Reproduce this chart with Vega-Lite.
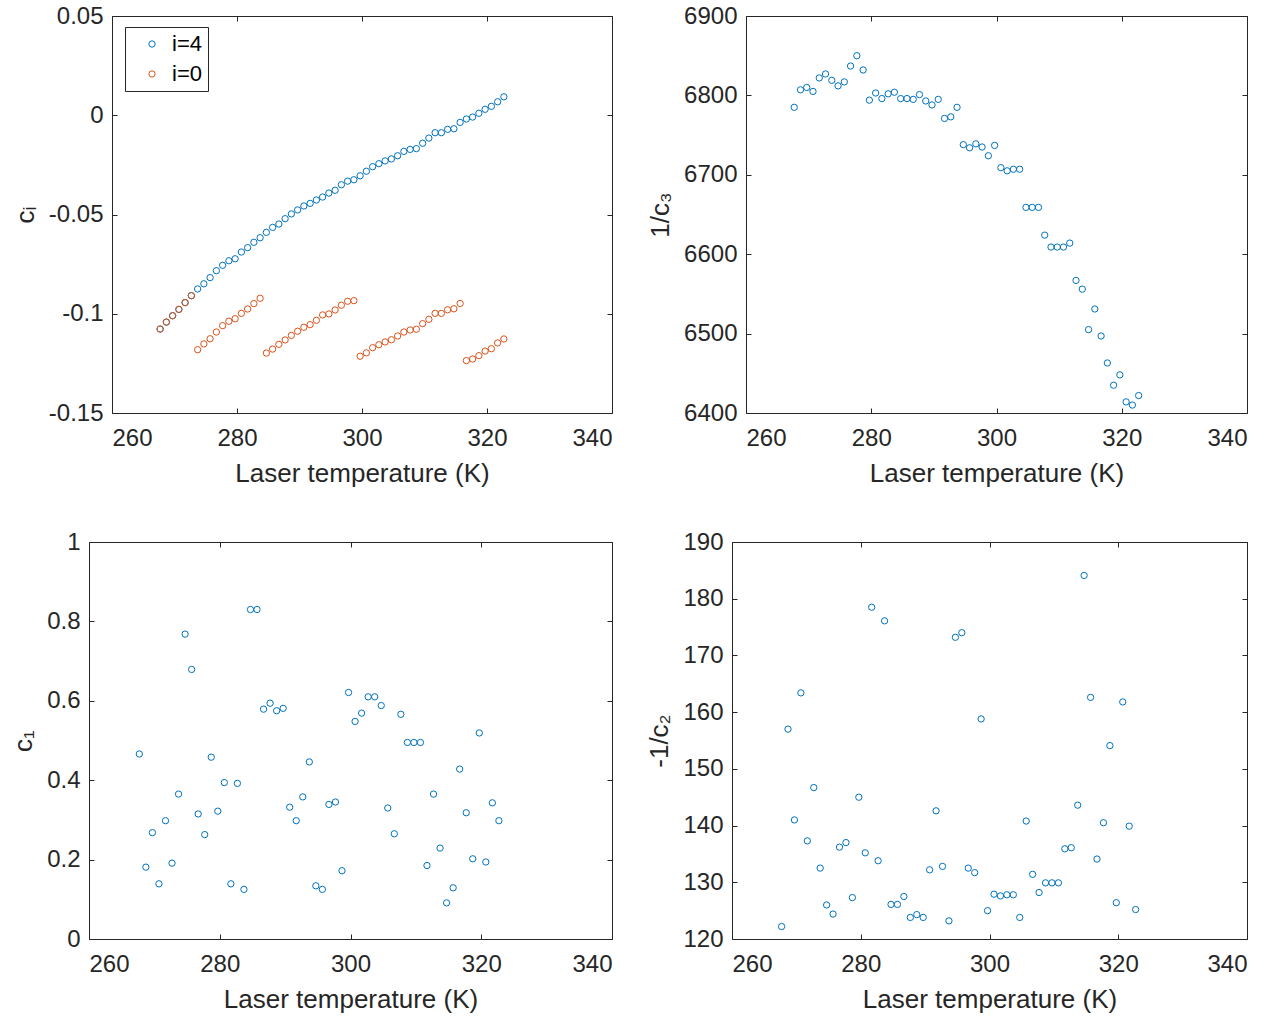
{
  "$schema": "https://vega.github.io/schema/vega-lite/v6.json",
  "background": "white",
  "padding": {"left": 10, "top": 4, "right": 5, "bottom": 5},
  "datasets": {
    "p1": [
      {"T": 267.7, "s": "i=4", "v": -0.1077}, {"T": 268.7, "s": "i=4", "v": -0.1042}, {"T": 269.7, "s": "i=4", "v": -0.1010}, {"T": 270.7, "s": "i=4", "v": -0.0978},
      {"T": 271.7, "s": "i=4", "v": -0.0944}, {"T": 272.7, "s": "i=4", "v": -0.0909}, {"T": 273.7, "s": "i=4", "v": -0.0875}, {"T": 274.7, "s": "i=4", "v": -0.0849},
      {"T": 275.7, "s": "i=4", "v": -0.0818}, {"T": 276.7, "s": "i=4", "v": -0.0783}, {"T": 277.7, "s": "i=4", "v": -0.0756}, {"T": 278.7, "s": "i=4", "v": -0.0733},
      {"T": 279.7, "s": "i=4", "v": -0.0723}, {"T": 280.7, "s": "i=4", "v": -0.0689}, {"T": 281.7, "s": "i=4", "v": -0.0667}, {"T": 282.7, "s": "i=4", "v": -0.0640},
      {"T": 283.7, "s": "i=4", "v": -0.0617}, {"T": 284.7, "s": "i=4", "v": -0.0590}, {"T": 285.7, "s": "i=4", "v": -0.0565}, {"T": 286.7, "s": "i=4", "v": -0.0548},
      {"T": 287.7, "s": "i=4", "v": -0.0521}, {"T": 288.7, "s": "i=4", "v": -0.0497}, {"T": 289.7, "s": "i=4", "v": -0.0477}, {"T": 290.7, "s": "i=4", "v": -0.0457},
      {"T": 291.7, "s": "i=4", "v": -0.0444}, {"T": 292.7, "s": "i=4", "v": -0.0427}, {"T": 293.7, "s": "i=4", "v": -0.0412}, {"T": 294.7, "s": "i=4", "v": -0.0392},
      {"T": 295.7, "s": "i=4", "v": -0.0378}, {"T": 296.7, "s": "i=4", "v": -0.0350}, {"T": 297.7, "s": "i=4", "v": -0.0332}, {"T": 298.7, "s": "i=4", "v": -0.0325},
      {"T": 299.7, "s": "i=4", "v": -0.0305}, {"T": 300.7, "s": "i=4", "v": -0.0282}, {"T": 301.7, "s": "i=4", "v": -0.0259}, {"T": 302.7, "s": "i=4", "v": -0.0244},
      {"T": 303.7, "s": "i=4", "v": -0.0230}, {"T": 304.7, "s": "i=4", "v": -0.0220}, {"T": 305.7, "s": "i=4", "v": -0.0204}, {"T": 306.7, "s": "i=4", "v": -0.0182},
      {"T": 307.7, "s": "i=4", "v": -0.0172}, {"T": 308.7, "s": "i=4", "v": -0.0168}, {"T": 309.7, "s": "i=4", "v": -0.0141}, {"T": 310.7, "s": "i=4", "v": -0.0115},
      {"T": 311.7, "s": "i=4", "v": -0.0088}, {"T": 312.7, "s": "i=4", "v": -0.0088}, {"T": 313.7, "s": "i=4", "v": -0.0071}, {"T": 314.7, "s": "i=4", "v": -0.0068},
      {"T": 315.7, "s": "i=4", "v": -0.0036}, {"T": 316.7, "s": "i=4", "v": -0.0019}, {"T": 317.7, "s": "i=4", "v": -0.0009}, {"T": 318.7, "s": "i=4", "v": 0.0010},
      {"T": 319.7, "s": "i=4", "v": 0.0030}, {"T": 320.7, "s": "i=4", "v": 0.0045}, {"T": 321.7, "s": "i=4", "v": 0.0068}, {"T": 322.7, "s": "i=4", "v": 0.0093},
      {"T": 267.7, "s": "i=0", "v": -0.1077}, {"T": 268.7, "s": "i=0", "v": -0.1042}, {"T": 269.7, "s": "i=0", "v": -0.1010}, {"T": 270.7, "s": "i=0", "v": -0.0978},
      {"T": 271.7, "s": "i=0", "v": -0.0944}, {"T": 272.7, "s": "i=0", "v": -0.0909}, {"T": 273.7, "s": "i=0", "v": -0.1181}, {"T": 274.7, "s": "i=0", "v": -0.1152},
      {"T": 275.7, "s": "i=0", "v": -0.1126}, {"T": 276.7, "s": "i=0", "v": -0.1092}, {"T": 277.7, "s": "i=0", "v": -0.1060}, {"T": 278.7, "s": "i=0", "v": -0.1038},
      {"T": 279.7, "s": "i=0", "v": -0.1025}, {"T": 280.7, "s": "i=0", "v": -0.0998}, {"T": 281.7, "s": "i=0", "v": -0.0976}, {"T": 282.7, "s": "i=0", "v": -0.0949},
      {"T": 283.7, "s": "i=0", "v": -0.0922}, {"T": 284.7, "s": "i=0", "v": -0.1198}, {"T": 285.7, "s": "i=0", "v": -0.1178}, {"T": 286.7, "s": "i=0", "v": -0.1154},
      {"T": 287.7, "s": "i=0", "v": -0.1132}, {"T": 288.7, "s": "i=0", "v": -0.1109}, {"T": 289.7, "s": "i=0", "v": -0.1088}, {"T": 290.7, "s": "i=0", "v": -0.1068},
      {"T": 291.7, "s": "i=0", "v": -0.1055}, {"T": 292.7, "s": "i=0", "v": -0.1033}, {"T": 293.7, "s": "i=0", "v": -0.1006}, {"T": 294.7, "s": "i=0", "v": -0.1001},
      {"T": 295.7, "s": "i=0", "v": -0.0981}, {"T": 296.7, "s": "i=0", "v": -0.0957}, {"T": 297.7, "s": "i=0", "v": -0.0937}, {"T": 298.7, "s": "i=0", "v": -0.0934},
      {"T": 299.7, "s": "i=0", "v": -0.1214}, {"T": 300.7, "s": "i=0", "v": -0.1197}, {"T": 301.7, "s": "i=0", "v": -0.1171}, {"T": 302.7, "s": "i=0", "v": -0.1156},
      {"T": 303.7, "s": "i=0", "v": -0.1142}, {"T": 304.7, "s": "i=0", "v": -0.1131}, {"T": 305.7, "s": "i=0", "v": -0.1112}, {"T": 306.7, "s": "i=0", "v": -0.1092},
      {"T": 307.7, "s": "i=0", "v": -0.1082}, {"T": 308.7, "s": "i=0", "v": -0.1078}, {"T": 309.7, "s": "i=0", "v": -0.1050}, {"T": 310.7, "s": "i=0", "v": -0.1028},
      {"T": 311.7, "s": "i=0", "v": -0.0998}, {"T": 312.7, "s": "i=0", "v": -0.0998}, {"T": 313.7, "s": "i=0", "v": -0.0980}, {"T": 314.7, "s": "i=0", "v": -0.0975},
      {"T": 315.7, "s": "i=0", "v": -0.0948}, {"T": 316.7, "s": "i=0", "v": -0.1236}, {"T": 317.7, "s": "i=0", "v": -0.1228}, {"T": 318.7, "s": "i=0", "v": -0.1211},
      {"T": 319.7, "s": "i=0", "v": -0.1188}, {"T": 320.7, "s": "i=0", "v": -0.1176}, {"T": 321.7, "s": "i=0", "v": -0.1147}, {"T": 322.7, "s": "i=0", "v": -0.1127}
    ],
    "p2": [
      {"T": 267.7, "v": 6785}, {"T": 268.7, "v": 6807}, {"T": 269.7, "v": 6810}, {"T": 270.7, "v": 6805}, {"T": 271.7, "v": 6822}, {"T": 272.7, "v": 6827},
      {"T": 273.7, "v": 6819}, {"T": 274.7, "v": 6812}, {"T": 275.7, "v": 6817}, {"T": 276.7, "v": 6837}, {"T": 277.7, "v": 6850}, {"T": 278.7, "v": 6832},
      {"T": 279.7, "v": 6794}, {"T": 280.7, "v": 6803}, {"T": 281.7, "v": 6796}, {"T": 282.7, "v": 6802}, {"T": 283.7, "v": 6804}, {"T": 284.7, "v": 6796},
      {"T": 285.7, "v": 6796}, {"T": 286.7, "v": 6795}, {"T": 287.7, "v": 6801}, {"T": 288.7, "v": 6793}, {"T": 289.7, "v": 6788}, {"T": 290.7, "v": 6795},
      {"T": 291.7, "v": 6771}, {"T": 292.7, "v": 6773}, {"T": 293.7, "v": 6785}, {"T": 294.7, "v": 6738}, {"T": 295.7, "v": 6734}, {"T": 296.7, "v": 6739},
      {"T": 297.7, "v": 6735}, {"T": 298.7, "v": 6724}, {"T": 299.7, "v": 6737}, {"T": 300.7, "v": 6709}, {"T": 301.7, "v": 6705}, {"T": 302.7, "v": 6707},
      {"T": 303.7, "v": 6707}, {"T": 304.7, "v": 6659}, {"T": 305.7, "v": 6659}, {"T": 306.7, "v": 6659}, {"T": 307.7, "v": 6624}, {"T": 308.7, "v": 6609},
      {"T": 309.7, "v": 6609}, {"T": 310.7, "v": 6609}, {"T": 311.7, "v": 6614}, {"T": 312.7, "v": 6567}, {"T": 313.7, "v": 6556}, {"T": 314.7, "v": 6505},
      {"T": 315.7, "v": 6531}, {"T": 316.7, "v": 6497}, {"T": 317.7, "v": 6463}, {"T": 318.7, "v": 6435}, {"T": 319.7, "v": 6448}, {"T": 320.7, "v": 6414},
      {"T": 321.7, "v": 6410}, {"T": 322.7, "v": 6422}
    ],
    "p3": [
      {"T": 267.7, "v": 0.466}, {"T": 268.7, "v": 0.181}, {"T": 269.7, "v": 0.268}, {"T": 270.7, "v": 0.139}, {"T": 271.7, "v": 0.298}, {"T": 272.7, "v": 0.191},
      {"T": 273.7, "v": 0.365}, {"T": 274.7, "v": 0.768}, {"T": 275.7, "v": 0.679}, {"T": 276.7, "v": 0.315}, {"T": 277.7, "v": 0.263}, {"T": 278.7, "v": 0.458},
      {"T": 279.7, "v": 0.322}, {"T": 280.7, "v": 0.394}, {"T": 281.7, "v": 0.139}, {"T": 282.7, "v": 0.392}, {"T": 283.7, "v": 0.125}, {"T": 284.7, "v": 0.830},
      {"T": 285.7, "v": 0.830}, {"T": 286.7, "v": 0.579}, {"T": 287.7, "v": 0.594}, {"T": 288.7, "v": 0.575}, {"T": 289.7, "v": 0.581}, {"T": 290.7, "v": 0.332},
      {"T": 291.7, "v": 0.298}, {"T": 292.7, "v": 0.358}, {"T": 293.7, "v": 0.446}, {"T": 294.7, "v": 0.134}, {"T": 295.7, "v": 0.125}, {"T": 296.7, "v": 0.339},
      {"T": 297.7, "v": 0.345}, {"T": 298.7, "v": 0.172}, {"T": 299.7, "v": 0.621}, {"T": 300.7, "v": 0.548}, {"T": 301.7, "v": 0.569}, {"T": 302.7, "v": 0.610},
      {"T": 303.7, "v": 0.610}, {"T": 304.7, "v": 0.588}, {"T": 305.7, "v": 0.330}, {"T": 306.7, "v": 0.265}, {"T": 307.7, "v": 0.566}, {"T": 308.7, "v": 0.495},
      {"T": 309.7, "v": 0.495}, {"T": 310.7, "v": 0.495}, {"T": 311.7, "v": 0.185}, {"T": 312.7, "v": 0.365}, {"T": 313.7, "v": 0.229}, {"T": 314.7, "v": 0.091},
      {"T": 315.7, "v": 0.129}, {"T": 316.7, "v": 0.428}, {"T": 317.7, "v": 0.318}, {"T": 318.7, "v": 0.202}, {"T": 319.7, "v": 0.519}, {"T": 320.7, "v": 0.194},
      {"T": 321.7, "v": 0.343}, {"T": 322.7, "v": 0.298}
    ],
    "p4": [
      {"T": 267.7, "v": 122.2}, {"T": 268.7, "v": 157.0}, {"T": 269.7, "v": 141.0}, {"T": 270.7, "v": 163.4}, {"T": 271.7, "v": 137.3}, {"T": 272.7, "v": 146.7},
      {"T": 273.7, "v": 132.5}, {"T": 274.7, "v": 126.0}, {"T": 275.7, "v": 124.4}, {"T": 276.7, "v": 136.2}, {"T": 277.7, "v": 137.0}, {"T": 278.7, "v": 127.3},
      {"T": 279.7, "v": 145.0}, {"T": 280.7, "v": 135.2}, {"T": 281.7, "v": 178.5}, {"T": 282.7, "v": 133.8}, {"T": 283.7, "v": 176.1}, {"T": 284.7, "v": 126.1},
      {"T": 285.7, "v": 126.1}, {"T": 286.7, "v": 127.5}, {"T": 287.7, "v": 123.8}, {"T": 288.7, "v": 124.3}, {"T": 289.7, "v": 123.8}, {"T": 290.7, "v": 132.2},
      {"T": 291.7, "v": 142.6}, {"T": 292.7, "v": 132.8}, {"T": 293.7, "v": 123.2}, {"T": 294.7, "v": 173.2}, {"T": 295.7, "v": 174.0}, {"T": 296.7, "v": 132.5},
      {"T": 297.7, "v": 131.7}, {"T": 298.7, "v": 158.8}, {"T": 299.7, "v": 125.0}, {"T": 300.7, "v": 127.9}, {"T": 301.7, "v": 127.6}, {"T": 302.7, "v": 127.8},
      {"T": 303.7, "v": 127.8}, {"T": 304.7, "v": 123.8}, {"T": 305.7, "v": 140.8}, {"T": 306.7, "v": 131.4}, {"T": 307.7, "v": 128.2}, {"T": 308.7, "v": 129.9},
      {"T": 309.7, "v": 129.9}, {"T": 310.7, "v": 129.9}, {"T": 311.7, "v": 135.9}, {"T": 312.7, "v": 136.1}, {"T": 313.7, "v": 143.6}, {"T": 314.7, "v": 184.1},
      {"T": 315.7, "v": 162.6}, {"T": 316.7, "v": 134.1}, {"T": 317.7, "v": 140.5}, {"T": 318.7, "v": 154.1}, {"T": 319.7, "v": 126.4}, {"T": 320.7, "v": 161.8},
      {"T": 321.7, "v": 139.9}, {"T": 322.7, "v": 125.2}
    ]
  },
  "concat": [
    {
      "hconcat": [
        {
          "width": 523, "height": 397,
          "data": {"name": "p1"},
          "layer": [
            {
              "mark": {"type": "point", "shape": "circle", "filled": false, "size": 40, "strokeWidth": 1, "opacity": 1},
              "encoding": {
                "x": {"field": "T", "type": "quantitative", "scale": {"domain": [260, 340], "range": [23, 523], "nice": false, "zero": false},
                      "axis": {"title": "Laser temperature (K)", "values": [260, 280, 300, 320, 340]}},
                "y": {"field": "v", "type": "quantitative", "scale": {"domain": [-0.15, 0.05], "nice": false, "zero": false},
                      "axis": {"title": "cᵢ", "offset": -23, "values": [-0.15, -0.1, -0.05, 0, 0.05],
                               "labelExpr": "datum.value < 0 ? '-' + format(-datum.value, '~g') : format(datum.value, '~g')"}},
                "color": {"field": "s", "type": "nominal", "sort": null,
                          "scale": {"domain": ["i=4", "i=0"], "range": ["#0072BD", "#D95319"]},
                          "legend": {"title": null, "orient": "none", "legendX": 36, "legendY": 11, "strokeColor": "#262626", "fillColor": "white",
                                     "padding": 6, "labelFontSize": 22, "labelColor": "#000000", "symbolType": "circle", "symbolSize": 40,
                                     "symbolStrokeWidth": 1, "rowPadding": 8, "symbolOffset": 10, "labelOffset": 9}}
              }
            },
            {
              "mark": {"type": "point", "opacity": 0},
              "encoding": {
                "x": {"field": "T", "type": "quantitative", "scale": {"domain": [260, 340], "range": [23, 523], "nice": false, "zero": false},
                      "axis": {"orient": "top", "labels": false, "title": null, "values": [260, 280, 300, 320, 340]}},
                "y": {"field": "v", "type": "quantitative", "scale": {"domain": [-0.15, 0.05], "nice": false, "zero": false},
                      "axis": {"orient": "right", "labels": false, "title": null, "values": [-0.15, -0.1, -0.05, 0, 0.05]}}
              }
            }
          ],
          "resolve": {"axis": {"x": "independent", "y": "independent"}}
        },
        {
          "width": 501, "height": 397,
          "data": {"name": "p2"},
          "layer": [
            {
              "mark": {"type": "point", "shape": "circle", "filled": false, "size": 40, "strokeWidth": 1, "color": "#0072BD", "opacity": 1},
              "encoding": {
                "x": {"field": "T", "type": "quantitative", "scale": {"domain": [260, 340], "nice": false, "zero": false},
                      "axis": {"title": "Laser temperature (K)", "values": [260, 280, 300, 320, 340]}},
                "y": {"field": "v", "type": "quantitative", "scale": {"domain": [6400, 6900], "nice": false, "zero": false},
                      "axis": {"title": "1/c₃", "format": "d", "values": [6400, 6500, 6600, 6700, 6800, 6900]}}
              }
            },
            {
              "mark": {"type": "point", "opacity": 0},
              "encoding": {
                "x": {"field": "T", "type": "quantitative", "scale": {"domain": [260, 340], "nice": false, "zero": false},
                      "axis": {"orient": "top", "labels": false, "title": null, "values": [260, 280, 300, 320, 340]}},
                "y": {"field": "v", "type": "quantitative", "scale": {"domain": [6400, 6900], "nice": false, "zero": false},
                      "axis": {"orient": "right", "labels": false, "title": null, "values": [6400, 6500, 6600, 6700, 6800, 6900]}}
              }
            }
          ],
          "resolve": {"axis": {"x": "independent", "y": "independent"}}
        }
      ],
      "spacing": 34
    },
    {
      "hconcat": [
        {
          "width": 523, "height": 397,
          "data": {"name": "p3"},
          "layer": [
            {
              "mark": {"type": "point", "shape": "circle", "filled": false, "size": 40, "strokeWidth": 1, "color": "#0072BD", "opacity": 1},
              "encoding": {
                "x": {"field": "T", "type": "quantitative", "scale": {"domain": [260, 340], "nice": false, "zero": false},
                      "axis": {"title": "Laser temperature (K)", "values": [260, 280, 300, 320, 340]}},
                "y": {"field": "v", "type": "quantitative", "scale": {"domain": [0, 1], "nice": false, "zero": false},
                      "axis": {"title": "c₁", "format": "~g", "values": [0, 0.2, 0.4, 0.6, 0.8, 1]}}
              }
            },
            {
              "mark": {"type": "point", "opacity": 0},
              "encoding": {
                "x": {"field": "T", "type": "quantitative", "scale": {"domain": [260, 340], "nice": false, "zero": false},
                      "axis": {"orient": "top", "labels": false, "title": null, "values": [260, 280, 300, 320, 340]}},
                "y": {"field": "v", "type": "quantitative", "scale": {"domain": [0, 1], "nice": false, "zero": false},
                      "axis": {"orient": "right", "labels": false, "title": null, "values": [0, 0.2, 0.4, 0.6, 0.8, 1]}}
              }
            }
          ],
          "resolve": {"axis": {"x": "independent", "y": "independent"}}
        },
        {
          "width": 515, "height": 397,
          "data": {"name": "p4"},
          "layer": [
            {
              "mark": {"type": "point", "shape": "circle", "filled": false, "size": 40, "strokeWidth": 1, "color": "#0072BD", "opacity": 1},
              "encoding": {
                "x": {"field": "T", "type": "quantitative", "scale": {"domain": [260, 340], "nice": false, "zero": false},
                      "axis": {"title": "Laser temperature (K)", "values": [260, 280, 300, 320, 340]}},
                "y": {"field": "v", "type": "quantitative", "scale": {"domain": [120, 190], "nice": false, "zero": false},
                      "axis": {"title": "-1/c₂", "format": "d", "values": [120, 130, 140, 150, 160, 170, 180, 190]}}
              }
            },
            {
              "mark": {"type": "point", "opacity": 0},
              "encoding": {
                "x": {"field": "T", "type": "quantitative", "scale": {"domain": [260, 340], "nice": false, "zero": false},
                      "axis": {"orient": "top", "labels": false, "title": null, "values": [260, 280, 300, 320, 340]}},
                "y": {"field": "v", "type": "quantitative", "scale": {"domain": [120, 190], "nice": false, "zero": false},
                      "axis": {"orient": "right", "labels": false, "title": null, "values": [120, 130, 140, 150, 160, 170, 180, 190]}}
              }
            }
          ],
          "resolve": {"axis": {"x": "independent", "y": "independent"}}
        }
      ],
      "spacing": 33
    }
  ],
  "columns": 1,
  "align": "none",
  "spacing": 44,
  "config": {
    "font": "Liberation Sans",
    "view": {"stroke": null},
    "axis": {
      "grid": false,
      "domainColor": "#262626", "tickColor": "#262626", "labelColor": "#262626", "titleColor": "#262626",
      "labelFont": "Liberation Sans", "titleFont": "Liberation Sans",
      "labelFontSize": 24, "titleFontSize": 26, "titleFontWeight": "normal",
      "tickSize": -5, "domainWidth": 1, "tickWidth": 1
    },
    "axisX": {"labelPadding": 18, "titlePadding": 10},
    "axisY": {"labelPadding": 14, "titlePadding": 10}
  }
}
